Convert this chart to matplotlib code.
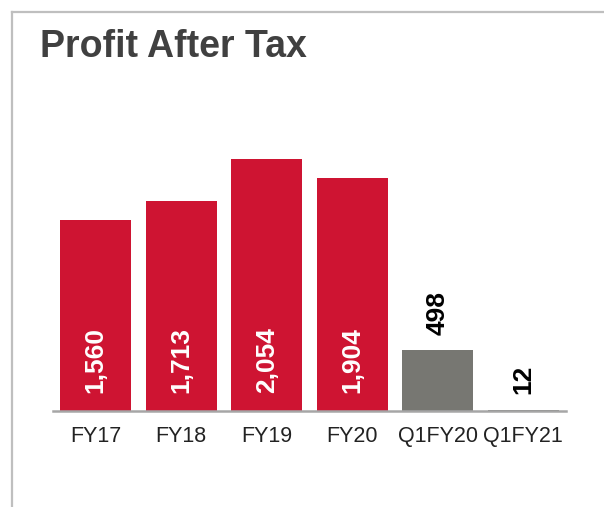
import matplotlib.pyplot as plt
from matplotlib.lines import Line2D

plt.rcParams['font.family'] = ['Liberation Sans', 'DejaVu Sans']

categories = ["FY17", "FY18", "FY19", "FY20", "Q1FY20", "Q1FY21"]
values = [1560, 1713, 2054, 1904, 498, 12]
labels = ["1,560", "1,713", "2,054", "1,904", "498", "12"]
is_quarter = [False, False, False, False, True, True]

red = "#CE1432"
grey = "#777772"

fig = plt.figure(figsize=(6.04, 5.07), dpi=100)
ax = fig.add_axes([53 / 604, 96 / 507, 513 / 604, 331 / 507])

colors = [grey if q else red for q in is_quarter]
x = range(len(categories))
bars = ax.bar(x, values, width=0.83, color=colors)

for b, lab, q in zip(bars, labels, is_quarter):
    cx = b.get_x() + b.get_width() / 2
    if q:
        ax.annotate(lab, (cx, b.get_height()), xytext=(0, 11), textcoords="offset points",
                    rotation=90, ha="center", va="bottom", fontsize=19,
                    fontweight="bold", color="black")
    else:
        ax.annotate(lab, (cx, 0), xytext=(0, 13), textcoords="offset points",
                    rotation=90, ha="center", va="bottom", fontsize=19,
                    fontweight="bold", color="white")

ax.set_xlim(-0.5, 5.5)
ax.set_ylim(0, 2702)
ax.set_xticks(list(x))
ax.set_xticklabels(categories, fontsize=15.5, color="#222222")
ax.tick_params(axis="x", length=0, pad=11)
ax.set_yticks([])
for s in ["top", "right", "left"]:
    ax.spines[s].set_visible(False)
ax.spines["bottom"].set_color("#A6A6A6")
ax.spines["bottom"].set_linewidth(1.8)

# panel border (top and left)
fig.add_artist(Line2D([12 / 604, 12 / 604], [0, 1 - 12 / 507], color="#BFBFBF", lw=1.6))
fig.add_artist(Line2D([12 / 604, 1], [1 - 12 / 507, 1 - 12 / 507], color="#BFBFBF", lw=1.6))

fig.text(40 / 604, 1 - 57 / 507, "Profit After Tax", fontsize=27, fontweight="bold",
         color="#404040", ha="left", va="baseline")

fig.savefig("out.png", dpi=100)
